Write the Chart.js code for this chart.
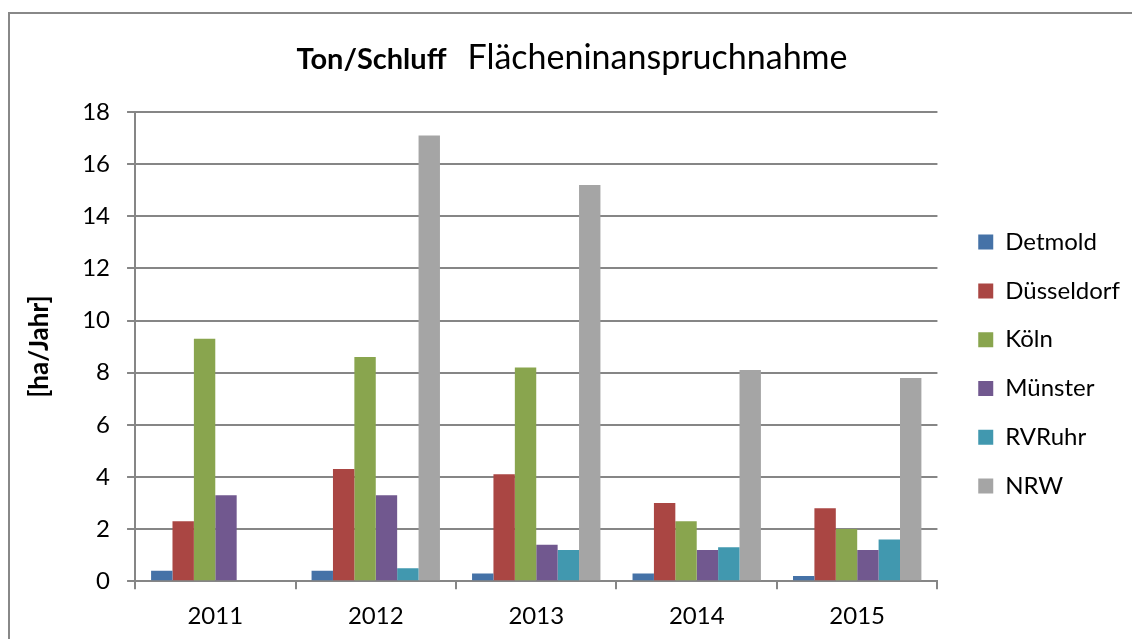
<!DOCTYPE html>
<html>
<head>
<meta charset="utf-8">
<script src="https://cdn.jsdelivr.net/npm/chart.js@4.4.0/dist/chart.umd.min.js"></script>
<style>
  body { margin: 0; background: #fff; }
  #wrap { position: relative; width: 1132px; height: 639px; overflow: hidden; }
  #rahmen { position: absolute; left: 8px; top: 12px; width: 1300px; height: 800px; border: 2px solid #888; }
  #flaechen { position: absolute; left: 0; top: 0; }
</style>
</head>
<body>
<div id="wrap">
  <div id="rahmen"></div>
  <canvas id="flaechen" width="1132" height="639"></canvas>
</div>
<script>
const jahre = ['2011', '2012', '2013', '2014', '2015'];

const detmold     = [0.4, 0.4, 0.3, 0.3, 0.2];
const duesseldorf = [2.3, 4.3, 4.1, 3.0, 2.8];
const koeln       = [9.3, 8.6, 8.2, 2.3, 2.0];
const muenster    = [3.3, 3.3, 1.4, 1.2, 1.2];
const rvruhr      = [null, 0.5, 1.2, 1.3, 1.6];
const nrw         = [null, 17.1, 15.2, 8.1, 7.8];

const FONT = 'Lato';

// Titel mit fettem und normalem Teil
const titelPlugin = {
    id: 'titel',
    afterDraw(chart) {
        const c = chart.ctx;
        const fett = 'Ton/Schluff';
        const normal = 'Flächeninanspruchnahme';
        c.save();
        c.fillStyle = '#000';
        c.textBaseline = 'alphabetic';
        c.font = 'bold 29px ' + FONT;
        const wFett = c.measureText(fett).width;
        c.font = '34px ' + FONT;
        const wNormal = c.measureText(normal).width;
        const abstand = 21;
        const start = 572 - (wFett + abstand + wNormal) / 2;
        c.font = 'bold 29px ' + FONT;
        c.fillText(fett, start, 69);
        c.font = '34px ' + FONT;
        c.fillText(normal, start + wFett + abstand, 69);
        c.restore();
    }
};

const ctx = document.getElementById('flaechen');
new Chart(ctx, {
    type: 'bar',
    data: {
        labels: jahre,
        datasets: [
            { label: 'Detmold', data: detmold, backgroundColor: '#4572A7' },
            { label: 'Düsseldorf', data: duesseldorf, backgroundColor: '#AA4643' },
            { label: 'Köln', data: koeln, backgroundColor: '#89A54E' },
            { label: 'Münster', data: muenster, backgroundColor: '#71588F' },
            { label: 'RVRuhr', data: rvruhr, backgroundColor: '#4198AF' },
            { label: 'NRW', data: nrw, backgroundColor: '#A5A5A5' }
        ]
    },
    options: {
        responsive: false,
        animation: false,
        categoryPercentage: 0.8,
        barPercentage: 1.0,
        layout: { padding: { top: 112, left: 16, bottom: -5, right: 2 } },
        plugins: {
            legend: {
                position: 'right',
                fullSize: false,
                title: { display: true, text: ' ', font: { size: 10 }, padding: { top: 0, bottom: 23 } },
                labels: {
                    font: { family: FONT, size: 24 },
                    color: '#000',
                    boxWidth: 15,
                    boxHeight: 15,
                    padding: 24.8
                }
            },
            tooltip: { enabled: false }
        },
        scales: {
            x: {
                grid: { drawOnChartArea: false, drawTicks: true, tickLength: 8, color: '#868686', lineWidth: 2 },
                border: { color: '#868686', width: 2 },
                ticks: { font: { family: FONT, size: 24 }, color: '#000', padding: 13 }
            },
            y: {
                min: 0,
                max: 18,
                ticks: { stepSize: 2, font: { family: FONT, size: 24 }, color: '#000', padding: 17 },
                grid: { color: '#868686', lineWidth: 2, tickLength: 8 },
                border: { color: '#868686', width: 2 },
                title: {
                    display: true,
                    text: '[ha/Jahr]',
                    font: { family: FONT, size: 26, weight: 'bold' },
                    color: '#000',
                    padding: { top: 8, bottom: 10 }
                }
            },
            // leerer Abstand zwischen Diagramm und Legende
            rand: {
                type: 'linear',
                position: 'right',
                grid: { display: false },
                border: { display: false },
                ticks: { display: false },
                afterFit(scale) { scale.width = 16; }
            }
        }
    },
    plugins: [titelPlugin]
});
</script>
</body>
</html>
